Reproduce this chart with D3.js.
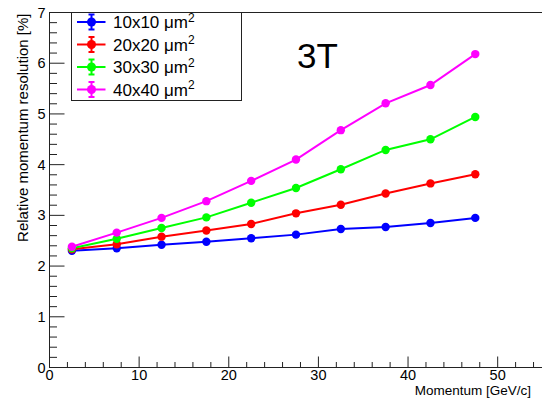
<!DOCTYPE html>
<html>
<head>
<meta charset="utf-8">
<script src="https://cdn.jsdelivr.net/npm/d3@7"></script>
<style>
  html, body { margin: 0; padding: 0; background: #fff; }
  svg { display: block; font-family: "Liberation Sans", Arial, Helvetica, sans-serif; }
</style>
</head>
<body>
<svg id="chart" width="542" height="400"></svg>
<script>
// Momentum points (GeV/c) and relative resolution (%) for each pixel size
const momentum = [2.5, 7.5, 12.5, 17.5, 22.5, 27.5, 32.5, 37.5, 42.5, 47.5];
const res10 = [2.30, 2.35, 2.42, 2.48, 2.55, 2.62, 2.73, 2.77, 2.85, 2.95];
const res20 = [2.33, 2.43, 2.58, 2.70, 2.83, 3.04, 3.21, 3.43, 3.63, 3.81];
const res30 = [2.35, 2.54, 2.75, 2.96, 3.25, 3.54, 3.91, 4.29, 4.50, 4.94];
const res40 = [2.38, 2.66, 2.95, 3.28, 3.68, 4.10, 4.68, 5.21, 5.57, 6.18];
const seriesNames = ["10x10", "20x20", "30x30", "40x40"];
const seriesColors = ["#0000ff", "#ff0000", "#00ff00", "#ff00ff"];
const xTicks = [0, 10, 20, 30, 40, 50];
const yTicks = [0, 1, 2, 3, 4, 5, 6, 7];

const seriesValues = [res10, res20, res30, res40];

const svg = d3.select("#chart");
const frameLeft = 49.5, frameRight = 542.5, frameTop = 12.5, frameBottom = 367.5;

const x = d3.scaleLinear().domain([0, 55]).range([frameLeft, frameRight]);
const y = d3.scaleLinear().domain([0, 7]).range([frameBottom, frameTop]);

// Frame
svg.append("rect")
  .attr("x", frameLeft).attr("y", frameTop)
  .attr("width", frameRight - frameLeft).attr("height", frameBottom - frameTop)
  .attr("fill", "none").attr("stroke", "#222").attr("stroke-width", 1);

// X axis ticks (drawn inward), minor every 2
const xMinor = d3.range(0, 55.01, 2).filter(v => v % 10 !== 0);
svg.append("g").selectAll("line").data(xTicks).join("line")
  .attr("x1", d => x(d)).attr("x2", d => x(d))
  .attr("y1", frameBottom).attr("y2", frameBottom - 11)
  .attr("stroke", "#222");
svg.append("g").selectAll("line").data(xMinor).join("line")
  .attr("x1", d => x(d)).attr("x2", d => x(d))
  .attr("y1", frameBottom).attr("y2", frameBottom - 5.5)
  .attr("stroke", "#222");
svg.append("g").selectAll("text").data(xTicks).join("text")
  .attr("x", d => x(d)).attr("y", 380)
  .attr("text-anchor", "middle")
  .attr("font-size", 14.5)
  .text(d => d);

// Y axis ticks (drawn inward), minor every 0.2
const yMinor = d3.range(0, 7.001, 0.2).map(v => +v.toFixed(1)).filter(v => Math.abs(v - Math.round(v)) > 1e-6);
svg.append("g").selectAll("line").data(yTicks).join("line")
  .attr("x1", frameLeft).attr("x2", frameLeft + 15)
  .attr("y1", d => y(d)).attr("y2", d => y(d))
  .attr("stroke", "#222");
svg.append("g").selectAll("line").data(yMinor).join("line")
  .attr("x1", frameLeft).attr("x2", frameLeft + 7.5)
  .attr("y1", d => y(d)).attr("y2", d => y(d))
  .attr("stroke", "#222");
svg.append("g").selectAll("text").data(yTicks).join("text")
  .attr("x", 45.5).attr("y", d => y(d) + 5)
  .attr("text-anchor", "end")
  .attr("font-size", 14.5)
  .text(d => d);

// Axis titles
svg.append("text")
  .attr("x", 531).attr("y", 395)
  .attr("text-anchor", "end")
  .attr("font-size", 13.5)
  .text("Momentum [GeV/c]");
svg.append("text")
  .attr("transform", "translate(27.5," + (frameTop + 1) + ") rotate(-90)")
  .attr("text-anchor", "end")
  .attr("font-size", 15)
  .text("Relative momentum resolution [%]");

// Series lines and markers
const line = d3.line().x((d, i) => x(momentum[i])).y(d => y(d));
seriesValues.forEach((vals, k) => {
  const g = svg.append("g");
  g.append("path")
    .attr("d", line(vals))
    .attr("fill", "none")
    .attr("stroke", seriesColors[k])
    .attr("stroke-width", 2);
  g.selectAll("circle").data(vals).join("circle")
    .attr("cx", (d, i) => x(momentum[i]))
    .attr("cy", d => y(d))
    .attr("r", 4.2)
    .attr("fill", seriesColors[k]);
});

// Field label
svg.append("text")
  .attr("x", 297).attr("y", 68)
  .attr("font-size", 35)
  .text("3T");

// Legend
const lg = svg.append("g");
lg.append("rect")
  .attr("x", 71.5).attr("y", frameTop)
  .attr("width", 170).attr("height", 88)
  .attr("fill", "#fff").attr("stroke", "#222").attr("stroke-width", 1);
seriesNames.forEach((name, k) => {
  const cy = 22 + k * 22.5;
  const c = seriesColors[k];
  const mx = 91.5;
  lg.append("line").attr("x1", 77).attr("x2", 105.5).attr("y1", cy).attr("y2", cy)
    .attr("stroke", c).attr("stroke-width", 2);
  lg.append("line").attr("x1", mx).attr("x2", mx).attr("y1", cy - 7.5).attr("y2", cy + 7.5)
    .attr("stroke", c).attr("stroke-width", 2);
  lg.append("line").attr("x1", mx - 3).attr("x2", mx + 3).attr("y1", cy - 7.5).attr("y2", cy - 7.5)
    .attr("stroke", c).attr("stroke-width", 2);
  lg.append("line").attr("x1", mx - 3).attr("x2", mx + 3).attr("y1", cy + 7.5).attr("y2", cy + 7.5)
    .attr("stroke", c).attr("stroke-width", 2);
  lg.append("circle").attr("cx", mx).attr("cy", cy).attr("r", 4.5).attr("fill", c);
  const t = lg.append("text").attr("x", 113).attr("y", cy + 6).attr("font-size", 17);
  t.append("tspan").text(name + " \u03bcm");
  t.append("tspan").attr("font-size", 12).attr("dy", -6.5).text("2");
});
</script>
</body>
</html>
